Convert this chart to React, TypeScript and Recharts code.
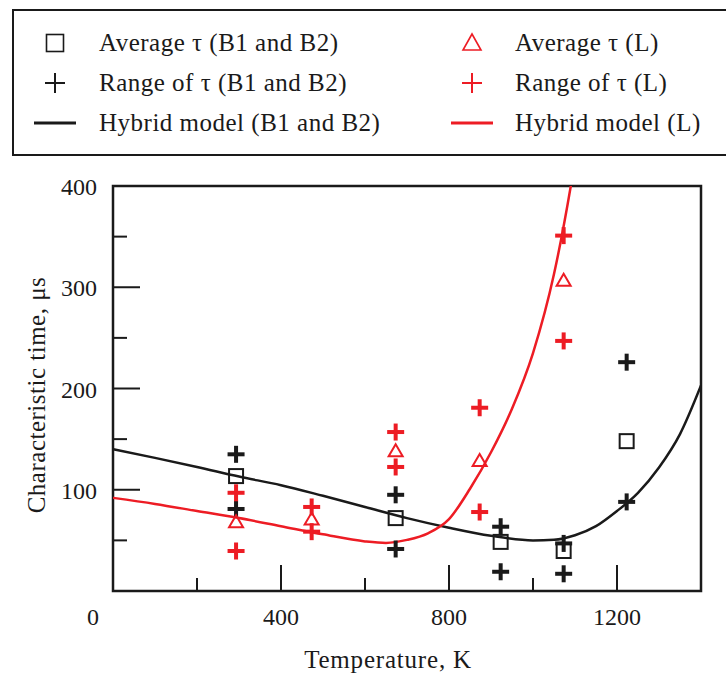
import React from "react";
import {
  ComposedChart,
  XAxis,
  YAxis,
  Line,
  Scatter,
  ReferenceArea,
  Label,
} from "recharts";

// measured temperatures (K)
const tempsB = [293, 673, 923, 1073, 1223];
const tempsL = [293, 473, 673, 873, 1073];

// B1 and B2
const avgB = [113.5, 72, 48.5, 39.5, 148];
const rangeHighB = [135, 95, 63.5, 47, 226];
const rangeLowB = [81, 41.5, 19, 17, 88];

// L
const avgL = [68.5, 71, 138.5, 129, 307];
const rangeHighL = [97, 83, 157, 181, 351];
const rangeLowL = [39.5, 58.6, 122.5, 78, 247];

// hybrid model curves
const modelTempsB = [0, 100, 200, 300, 400, 500, 600, 700, 800, 900, 1000, 1050, 1100, 1150, 1200, 1250, 1300, 1350, 1400];
const modelB = [140, 131.5, 122.5, 113, 104.5, 94, 83, 72, 62.5, 54.5, 50, 50.5, 55, 64, 79, 97, 122, 155, 203];
const modelTempsL = [0, 100, 200, 300, 400, 500, 600, 650, 700, 750, 800, 850, 900, 950, 1000, 1050, 1090, 1100];
const modelL = [92, 86, 79, 72, 64, 56, 49, 47.5, 50.5, 57, 71, 101, 137, 180, 235, 313, 400, 425];

const xTicks = [0, 200, 400, 600, 800, 1000, 1200, 1400];
const yTicks = [0, 50, 100, 150, 200, 250, 300, 350, 400];

const RED = "#ed1c24";
const BLACK = "#1a1a1a";
const FONT = '"Liberation Serif", "Times New Roman", serif';

const pts = (xs: number[], ys: number[]) => xs.map((x, i) => ({ x, y: ys[i] }));

const SquareShape = (props: any) => {
  const { cx, cy } = props;
  return <rect x={cx - 7} y={cy - 7} width={14} height={14} fill="none" stroke={BLACK} strokeWidth={2} />;
};

const makePlus = (color: string) => (props: any) => {
  const { cx, cy } = props;
  return (
    <g fill={color}>
      <rect x={cx - 8.5} y={cy - 2} width={17} height={4} />
      <rect x={cx - 2} y={cy - 8.5} width={4} height={17} />
    </g>
  );
};

const TriangleShape = (props: any) => {
  const { cx, cy } = props;
  return (
    <polygon
      points={`${cx},${cy - 6.5} ${cx + 7},${cy + 5.5} ${cx - 7},${cy + 5.5}`}
      fill="none"
      stroke={RED}
      strokeWidth={2}
    />
  );
};

const XTick = (props: any) => {
  const { x, y, payload } = props;
  const v = payload.value;
  const major = v % 400 === 0;
  return (
    <g>
      <line x1={x} y1={y} x2={x} y2={y - (major ? 26 : 13)} stroke={BLACK} strokeWidth={2} />
      {major && (
        <text x={v === 0 ? x - 20 : x} y={y + 34} textAnchor="middle" fontSize={24} fill={BLACK} fontFamily={FONT}>
          {v}
        </text>
      )}
    </g>
  );
};

const YTick = (props: any) => {
  const { x, y, payload } = props;
  const v = payload.value;
  const major = v % 100 === 0;
  return (
    <g>
      <line x1={x} y1={y} x2={x + (major ? 27 : 14)} y2={y} stroke={BLACK} strokeWidth={2} />
      {major && v !== 0 && (
        <text x={x - 16} y={y + 9} textAnchor="end" fontSize={24} fill={BLACK} fontFamily={FONT}>
          {v}
        </text>
      )}
    </g>
  );
};

const legendRows = [
  { left: "Average τ (B1 and B2)", right: "Average τ (L)", kind: "avg" },
  { left: "Range of τ (B1 and B2)", right: "Range of τ (L)", kind: "range" },
  { left: "Hybrid model (B1 and B2)", right: "Hybrid model (L)", kind: "model" },
];

function LegendSymbol({ kind, color, cx, cy }: { kind: string; color: string; cx: number; cy: number }) {
  if (kind === "avg" && color === BLACK)
    return <rect x={cx - 8.5} y={cy - 8.5} width={17} height={17} fill="none" stroke={color} strokeWidth={1.6} />;
  if (kind === "avg")
    return (
      <polygon
        points={`${cx},${cy - 9} ${cx + 9},${cy + 7} ${cx - 9},${cy + 7}`}
        fill="none"
        stroke={color}
        strokeWidth={1.6}
      />
    );
  if (kind === "range")
    return (
      <g stroke={color} strokeWidth={2}>
        <line x1={cx - 10} y1={cy} x2={cx + 10} y2={cy} />
        <line x1={cx} y1={cy - 10} x2={cx} y2={cy + 10} />
      </g>
    );
  return <line x1={cx - 21} y1={cy} x2={cx + 21} y2={cy} stroke={color} strokeWidth={3} />;
}

function ChartLegend() {
  return (
    <svg width={726} height={165} style={{ position: "absolute", left: 0, top: 0 }}>
      <rect x={13} y={10} width={760} height={145} fill="#fff" stroke={BLACK} strokeWidth={2} />
      {legendRows.map((r, i) => {
        const cy = 43 + i * 40;
        return (
          <g key={r.kind} fontFamily={FONT} fontSize={25} fill={BLACK} letterSpacing={0.5}>
            <LegendSymbol kind={r.kind} color={BLACK} cx={55} cy={cy} />
            <text x={99} y={cy + 8}>{r.left}</text>
            <LegendSymbol kind={r.kind} color={RED} cx={472} cy={cy} />
            <text x={515} y={cy + 8}>{r.right}</text>
          </g>
        );
      })}
    </svg>
  );
}

export default function App() {
  return (
    <div
      style={{
        position: "absolute",
        left: 0,
        top: 0,
        width: 726,
        height: 673,
        overflow: "hidden",
        background: "#fff",
        fontFamily: FONT,
      }}
    >
      <ComposedChart width={726} height={673} margin={{ top: 186, right: 25, bottom: 0, left: 0 }}>
        <XAxis
          type="number"
          dataKey="x"
          domain={[0, 1400]}
          ticks={xTicks}
          interval={0}
          allowDataOverflow
          axisLine={false}
          tickLine={false}
          tickSize={0}
          tickMargin={0}
          height={82}
          tick={XTick}
        >
          <Label
            content={() => (
              <text x={388} y={668} textAnchor="middle" fontSize={25} letterSpacing={0.8} fill={BLACK} fontFamily={FONT}>
                Temperature, K
              </text>
            )}
          />
        </XAxis>
        <YAxis
          type="number"
          dataKey="y"
          domain={[0, 400]}
          ticks={yTicks}
          interval={0}
          allowDataOverflow
          axisLine={false}
          tickLine={false}
          tickSize={0}
          tickMargin={0}
          width={113}
          tick={YTick}
        >
          <Label
            content={() => (
              <text
                x={45}
                y={395}
                transform="rotate(-90 45 395)"
                textAnchor="middle"
                fontSize={25}
                letterSpacing={0.5}
                fill={BLACK}
                fontFamily={FONT}
              >
                Characteristic time, μs
              </text>
            )}
          />
        </YAxis>
        <Line
          data={pts(modelTempsB, modelB)}
          dataKey="y"
          type="monotone"
          stroke={BLACK}
          strokeWidth={2.5}
          dot={false}
          isAnimationActive={false}
        />
        <Line
          data={pts(modelTempsL, modelL)}
          dataKey="y"
          type="monotone"
          stroke={RED}
          strokeWidth={2.5}
          dot={false}
          isAnimationActive={false}
        />
        <Scatter data={pts(tempsB, avgB)} dataKey="y" shape={SquareShape} isAnimationActive={false} />
        <Scatter
          data={[...pts(tempsB, rangeHighB), ...pts(tempsB, rangeLowB)]}
          dataKey="y"
          shape={makePlus(BLACK)}
          isAnimationActive={false}
        />
        <Scatter data={pts(tempsL, avgL)} dataKey="y" shape={TriangleShape} isAnimationActive={false} />
        <Scatter
          data={[...pts(tempsL, rangeHighL), ...pts(tempsL, rangeLowL)]}
          dataKey="y"
          shape={makePlus(RED)}
          isAnimationActive={false}
        />
        <ReferenceArea x1={0} x2={1400} y1={0} y2={400} fill="none" stroke={BLACK} strokeWidth={2.5} />
      </ComposedChart>
      <ChartLegend />
    </div>
  );
}
